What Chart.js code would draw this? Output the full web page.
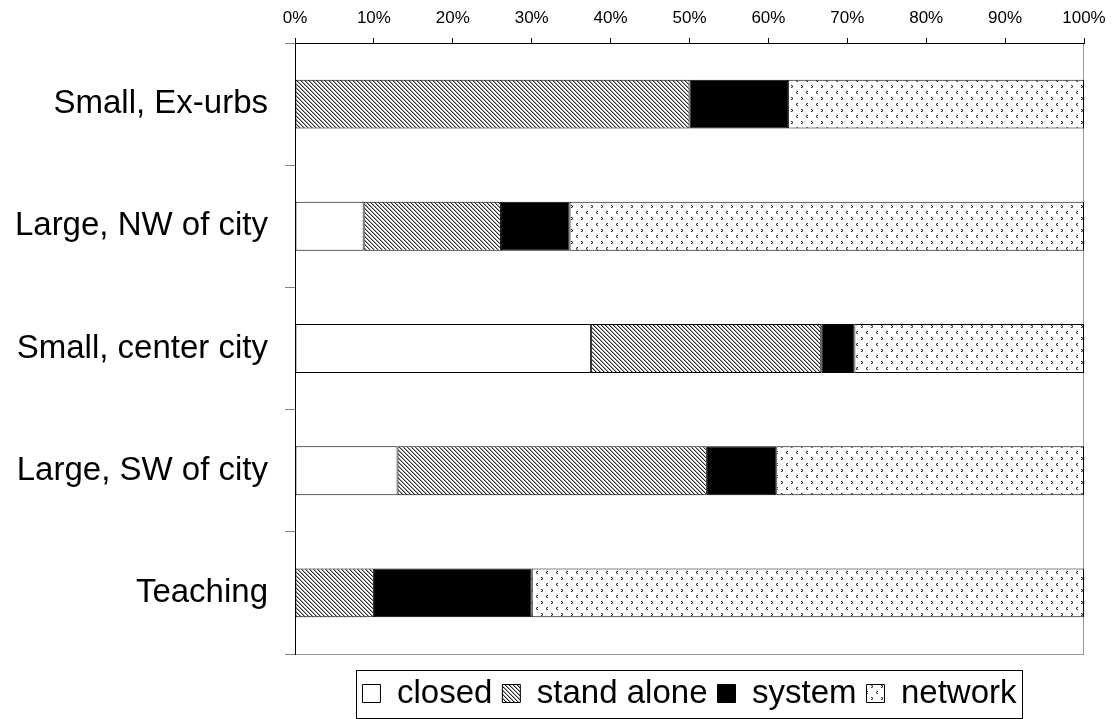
<!DOCTYPE html>
<html>
<head>
<meta charset="utf-8">
<script src="https://cdn.jsdelivr.net/npm/chart.js@4.4.1/dist/chart.umd.min.js"></script>
<style>
  body { margin: 0; background: #fff; }
  #wrap { width: 1113px; height: 719px; }
</style>
</head>
<body>
<div id="wrap"><canvas id="chart" width="1113" height="719"></canvas></div>
<script>
// Data, in percent of each site
const categories = ["Small, Ex-urbs", "Large, NW of city", "Small, center city", "Large, SW of city", "Teaching"];
const closedValues = [0, 8.7, 37.5, 13.0, 0];
const standAloneValues = [50.0, 17.4, 29.2, 39.2, 10.0];
const systemValues = [12.5, 8.7, 4.2, 8.8, 20.0];
const networkValues = [37.5, 65.2, 29.1, 39.0, 70.0];
const seriesNames = ["closed", "stand alone", "system", "network"];

const canvas = document.getElementById("chart");
const ctx = canvas.getContext("2d");
const FONT = "'Liberation Sans', Arial, sans-serif";

// small tiles for the fill patterns
function makePattern(w, h, draw) {
    const c = document.createElement("canvas");
    c.width = w;
    c.height = h;
    const g = c.getContext("2d");
    g.fillStyle = "#ffffff";
    g.fillRect(0, 0, w, h);
    draw(g);
    return ctx.createPattern(c, "repeat");
}

const hatch = makePattern(4, 4, (g) => {
    for (let i = 0; i < 4; i++) {
        g.fillStyle = "#2a2a2a";
        g.fillRect(i, i, 1, 1);
        g.fillStyle = "#a8a8a8";
        g.fillRect((i + 1) % 4, i, 1, 1);
    }
});

const dots = makePattern(10, 12, (g) => {
    g.fillStyle = "#333333";
    // ">"
    g.fillRect(1, 1, 1, 1); g.fillRect(2, 2, 1, 1); g.fillRect(1, 3, 1, 1);
    // "<"
    g.fillRect(7, 7, 1, 1); g.fillRect(6, 8, 1, 1); g.fillRect(7, 9, 1, 1);
    g.fillStyle = "#999999";
    g.fillRect(2, 1, 1, 1); g.fillRect(2, 3, 1, 1);
    g.fillRect(6, 7, 1, 1); g.fillRect(6, 9, 1, 1);
});

const fills = ["#ffffff", hatch, "#000000", dots];
const seriesValues = [closedValues, standAloneValues, systemValues, networkValues];

// grey frame round the plot, black box round the legend
const framePlugin = {
    id: "frame",
    afterLayout(chart) {
        // legend sits a bit lower in the original
        chart.legend.top += 13;
        chart.legend.bottom += 13;
    },
    beforeDraw(chart) {
        const a = chart.chartArea;
        const c = chart.ctx;
        c.save();
        c.strokeStyle = "#999999";
        c.lineWidth = 1;
        c.strokeRect(Math.round(a.left) + 0.5, Math.round(a.top) + 0.5,
            Math.round(a.right - a.left) - 1, Math.round(a.bottom - a.top));
        c.restore();
    },
    afterDraw(chart) {
        const boxes = chart.legend.legendHitBoxes;
        if (!boxes.length) return;
        const left = Math.min(...boxes.map(b => b.left)) - 6;
        const right = Math.max(...boxes.map(b => b.left + b.width)) + 6;
        const mid = boxes[0].top + boxes[0].height / 2;
        const c = chart.ctx;
        c.save();
        c.strokeStyle = "#000000";
        c.lineWidth = 1;
        c.strokeRect(Math.round(left) + 0.5, Math.round(mid - 24) + 0.5, Math.round(right - left), 48);
        c.restore();
    }
};

new Chart(canvas, {
    type: "bar",
    plugins: [framePlugin],
    data: {
        labels: categories,
        datasets: seriesNames.map((name, i) => ({
            label: name,
            data: seriesValues[i],
            backgroundColor: fills[i],
            borderColor: "#000000",
            borderWidth: 1,
            borderSkipped: false,
            categoryPercentage: 1.0,
            barPercentage: 0.4,
        })),
    },
    options: {
        indexAxis: "y",
        responsive: false,
        animation: false,
        layout: { padding: { left: 0, right: 29, top: 0, bottom: 12 } },
        scales: {
            x: {
                position: "top",
                stacked: true,
                min: 0,
                max: 100,
                ticks: {
                    stepSize: 10,
                    color: "#000000",
                    padding: 9,
                    font: { family: FONT, size: 17 },
                    callback: (v) => v + "%",
                },
                grid: { drawOnChartArea: false, drawTicks: true, tickLength: 5, color: "#000000" },
                border: { color: "#000000", width: 1 },
                afterFit: (scale) => {
                    scale.height = 43;
                    scale.paddingLeft = 0;
                    scale.paddingRight = 0;
                },
            },
            y: {
                stacked: true,
                ticks: {
                    color: "#000000",
                    padding: 17,
                    font: { family: FONT, size: 33 },
                },
                grid: { offset: true, drawOnChartArea: false, drawTicks: true, tickLength: 10, color: "#808080" },
                border: { color: "#000000", width: 1 },
                afterFit: (scale) => { scale.width = 295; },
            },
        },
        plugins: {
            tooltip: { enabled: false },
            legend: {
                position: "bottom",
                fullSize: false,
                labels: {
                    color: "#000000",
                    boxWidth: 18,
                    boxHeight: 18,
                    padding: 10,
                    font: { family: FONT, size: 33 },
                },
            },
        },
    },
});
</script>
</body>
</html>
